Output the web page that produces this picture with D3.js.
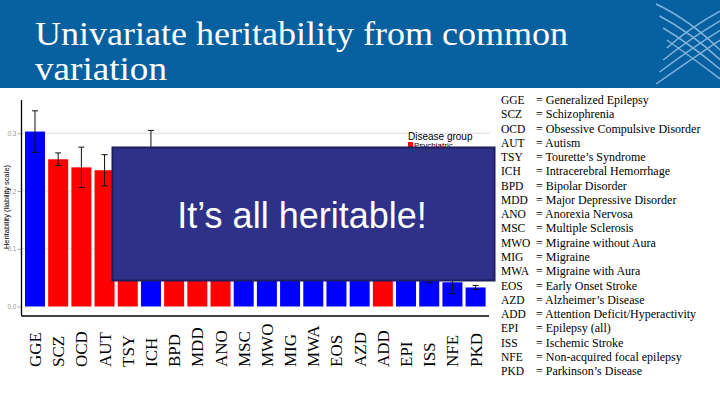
<!DOCTYPE html>
<html lang="en">
<head>
<meta charset="UTF-8">
<script src="https://d3js.org/d3.v7.min.js"></script>
<title>Univariate heritability</title>
<style>
  body { margin: 0; background: #fff; }
</style>
</head>
<body>
<svg id="slide" width="720" height="405"></svg>
<script>
// data
var codes = ["GGE","SCZ","OCD","AUT","TSY","ICH","BPD","MDD","ANO","MSC","MWO","MIG","MWA","EOS","AZD","ADD","EPI","ISS","NFE","PKD"];
var groups = ["N","P","P","P","P","N","P","P","P","N","N","N","N","N","N","P","N","N","N","N"];
var h2 = [0.303,0.255,0.241,0.236,0.215,0.205,0.200,0.185,0.170,0.155,0.140,0.125,0.115,0.100,0.090,0.080,0.065,0.055,0.042,0.033];
var se = [0.036,0.011,0.035,0.027,0.030,0.100,0.010,0.010,0.020,0.020,0.010,0.010,0.015,0.030,0.030,0.010,0.015,0.014,0.020,0.0035];
var names = ["Generalized Epilepsy","Schizophrenia","Obsessive Compulsive Disorder","Autism","Tourette\u2019s Syndrome",
  "Intracerebral Hemorrhage","Bipolar Disorder","Major Depressive Disorder","Anorexia Nervosa","Multiple Sclerosis",
  "Migraine without Aura","Migraine","Migraine with Aura","Early Onset Stroke","Alzheimer\u2019s Disease",
  "Attention Deficit/Hyperactivity","Epilepsy (all)","Ischemic Stroke","Non-acquired focal epilepsy","Parkinson\u2019s Disease"];
var yTicks = [0.0, 0.1, 0.2, 0.3];
var groupNames = {P: "Psychiatric", N: "Neurological"};
var groupColors = {P: "#ff0000", N: "#0000ff"};

var svg = d3.select("#slide");

// header band
svg.append("rect").attr("x", 0).attr("y", 0).attr("width", 720).attr("height", 88).attr("fill", "#07609f");
var deco = svg.append("g").attr("fill", "none").attr("stroke", "#9cc8ee").attr("stroke-width", 1.5).attr("opacity", 0.8);
[0, 12, 24, 36].forEach(function(d) {
  deco.append("path").attr("d", "M" + (656 + d * 0.3) + "," + (4 + d) + " Q" + (690) + "," + (20 + d) + " 720," + (50 + d * 0.8));
  deco.append("path").attr("d", "M" + (656 + d * 0.3) + "," + (84 - d) + " Q" + (690) + "," + (60 - d * 0.9) + " 720," + (40 - d * 0.8));
});
svg.append("text").attr("x", 35).attr("y", 45)
  .attr("font-family", "Liberation Serif, serif").attr("font-size", 34).attr("fill", "#fff")
  .attr("textLength", 533).attr("lengthAdjust", "spacingAndGlyphs")
  .text("Univariate heritability from common");
svg.append("text").attr("x", 35).attr("y", 80)
  .attr("font-family", "Liberation Serif, serif").attr("font-size", 34).attr("fill", "#fff")
  .attr("textLength", 132).attr("lengthAdjust", "spacingAndGlyphs")
  .text("variation");

// scales
var x = d3.scaleBand().domain(codes).range([23.4, 487.2]).paddingInner(0.1376).paddingOuter(0.0688);
var y = d3.scaleLinear().domain([0, 0.3]).range([306.5, 133.3]);

// gridlines
svg.append("g").selectAll("line").data(yTicks.slice(1)).join("line")
  .attr("x1", 22).attr("x2", 490).attr("y1", function(d) { return y(d); }).attr("y2", function(d) { return y(d); })
  .attr("stroke", "#dcdcdc").attr("stroke-width", 1);

// bars
svg.append("g").selectAll("rect").data(codes).join("rect")
  .attr("x", function(d) { return x(d); })
  .attr("width", x.bandwidth())
  .attr("y", function(d, i) { return y(h2[i]); })
  .attr("height", function(d, i) { return y(0) - y(h2[i]); })
  .attr("fill", function(d, i) { return groupColors[groups[i]]; });

// error bars
var eb = svg.append("g").attr("stroke", "#111").attr("stroke-width", 1);
codes.forEach(function(c, i) {
  var cx = x(c) + x.bandwidth() / 2;
  eb.append("line").attr("x1", cx).attr("x2", cx).attr("y1", y(h2[i] + se[i])).attr("y2", y(h2[i] - se[i]));
  eb.append("line").attr("x1", cx - 3).attr("x2", cx + 3).attr("y1", y(h2[i] + se[i])).attr("y2", y(h2[i] + se[i]));
  eb.append("line").attr("x1", cx - 3).attr("x2", cx + 3).attr("y1", y(h2[i] - se[i])).attr("y2", y(h2[i] - se[i]));
});

// y axis
var yAxis = svg.append("g").attr("transform", "translate(21.5,0)")
  .call(d3.axisLeft(y).tickValues(yTicks).tickFormat(d3.format(".1f")).tickSize(4));
yAxis.select(".domain").remove();
yAxis.selectAll(".tick line").attr("stroke", "#aaa");
yAxis.selectAll(".tick text").attr("fill", "#999").attr("font-size", 6.5).attr("font-family", "Liberation Sans, Arial, sans-serif").attr("x", -5);
svg.append("line").attr("x1", 21.5).attr("x2", 21.5).attr("y1", 100).attr("y2", 316).attr("stroke", "#000").attr("stroke-width", 1.3);
svg.append("line").attr("x1", 21.5).attr("x2", 489).attr("y1", 316).attr("y2", 316).attr("stroke", "#000").attr("stroke-width", 1.3);
svg.append("text").attr("transform", "translate(9,207) rotate(-90)").attr("text-anchor", "middle")
  .attr("font-family", "Liberation Sans, Arial, sans-serif").attr("font-size", 7.5).attr("fill", "#000")
  .text("Heritability (liability scale)");

// x labels
svg.append("g").selectAll("text").data(codes).join("text")
  .attr("transform", function(d) { return "translate(" + (x(d) + x.bandwidth() / 2 + 6) + ",367) rotate(-90)"; })
  .attr("font-family", "Liberation Serif, serif").attr("font-size", 17).attr("fill", "#000")
  .text(function(d) { return d; });

// ggplot legend (mostly covered)
svg.append("text").attr("x", 408).attr("y", 140).attr("font-family", "Liberation Sans, Arial, sans-serif")
  .attr("font-size", 10).attr("fill", "#000").text("Disease group");
var lg = svg.append("g").selectAll("g").data(["P", "N"]).join("g")
  .attr("transform", function(d, i) { return "translate(408," + (142 + i * 8) + ")"; });
lg.append("rect").attr("width", 5).attr("height", 5).attr("fill", function(d) { return groupColors[d]; });
lg.append("text").attr("x", 6).attr("y", 5.5).attr("font-family", "Liberation Sans, Arial, sans-serif")
  .attr("font-size", 8).attr("fill", "#000").text(function(d) { return groupNames[d]; });

// overlay box
svg.append("rect").attr("x", 112.5).attr("y", 147.5).attr("width", 382).attr("height", 133)
  .attr("fill", "#2e3187").attr("stroke", "#1d1e5e").attr("stroke-width", 2);
svg.append("text").attr("x", 302).attr("y", 228).attr("text-anchor", "middle")
  .attr("font-family", "Liberation Sans, Arial, sans-serif").attr("font-size", 36).attr("fill", "#fff")
  .text("It\u2019s all heritable!");

// abbreviation key
var key = svg.append("g").attr("font-family", "Liberation Serif, serif").attr("fill", "#000");
key.selectAll("text.abbr").data(codes).join("text").attr("class", "abbr").attr("font-size", 11.5)
  .attr("x", 501).attr("y", function(d, i) { return 104 + i * 14.27; }).text(function(d) { return d; });
key.selectAll("text.desc").data(names).join("text").attr("class", "desc").attr("font-size", 12)
  .attr("x", 536).attr("y", function(d, i) { return 104 + i * 14.27; }).text(function(d) { return "= " + d; });
</script>
</body>
</html>
